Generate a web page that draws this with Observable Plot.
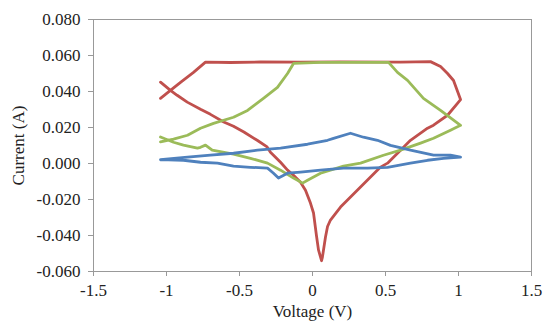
<!DOCTYPE html>
<html>
<head>
<meta charset="utf-8">
<script src="https://cdn.jsdelivr.net/npm/d3@7"></script>
<script src="https://cdn.jsdelivr.net/npm/@observablehq/plot@0.6"></script>
<style>
  html, body { margin: 0; padding: 0; background: #fff; }
  #chart svg g[aria-label$="-axis tick"] { color: #999; }
</style>
</head>
<body>
<div id="chart"></div>
<script>
// Tick labels
const xTicks = [-1.5, -1, -0.5, 0, 0.5, 1, 1.5];
const yTicks = [-0.06, -0.04, -0.02, 0, 0.02, 0.04, 0.06, 0.08];
const seriesNames = ["Series 1", "Series 2", "Series 3"];
const seriesColors = ["#C0504D", "#9BBB59", "#4F81BD"];

// Series 1 (red loop): voltage V, current A
const redV = [-1.041, -0.973, -0.904, -0.815, -0.733, -0.562, -0.356, -0.082, 0.192, 0.603, 0.808,
  0.877, 0.925, 0.966, 1.014, 0.993, 0.925, 0.829, 0.788, 0.671, 0.603, 0.514, 0.466, 0.329, 0.192,
  0.123, 0.103, 0.089, 0.068, 0.062, 0.041, 0.027, 0.007, -0.014, -0.048, -0.082, -0.130, -0.171,
  -0.219, -0.288, -0.311, -0.379, -0.470, -0.541, -0.608, -0.699, -0.767, -0.858, -0.927, -0.973, -1.041];
const redI = [0.0362, 0.0406, 0.0451, 0.0506, 0.0563, 0.0561, 0.0564, 0.0563, 0.0565, 0.0563, 0.0566,
  0.0539, 0.0500, 0.0461, 0.0355, 0.0334, 0.0268, 0.0213, 0.0196, 0.0129, 0.0074, 0.0002, -0.0020, -0.0131, -0.0242,
  -0.0314, -0.0350, -0.0408, -0.0520, -0.0540, -0.0480, -0.0400, -0.0275, -0.0220, -0.0148, -0.0104, -0.0065, -0.0037,
  0.0007, 0.0063, 0.0092, 0.0129, 0.0175, 0.0207, 0.0231, 0.0273, 0.0301, 0.0341, 0.0379, 0.0406, 0.0452];

// Series 2 (green loop)
const greenV = [-1.041, -0.952, -0.856, -0.767, -0.678, -0.541, -0.445, -0.336, -0.240, -0.171, -0.130,
  0.055, 0.260, 0.521, 0.582, 0.651, 0.760, 0.877, 1.014, 0.945, 0.829, 0.740, 0.603, 0.486, 0.329,
  0.212, 0.055, -0.034, -0.068, -0.130, -0.219, -0.308, -0.425, -0.541, -0.687, -0.733, -0.767, -0.788,
  -0.884, -0.952, -1.041];
const greenI = [0.0120, 0.0135, 0.0157, 0.0196, 0.0223, 0.0257, 0.0295, 0.0362, 0.0423, 0.0500, 0.0556,
  0.0562, 0.0562, 0.0562, 0.0506, 0.0462, 0.0362, 0.0295, 0.0212, 0.0185, 0.0140, 0.0113, 0.0074, 0.0046, 0.0002,
  -0.0015, -0.0054, -0.0093, -0.0109, -0.0081, -0.0037, 0.0002, 0.0029, 0.0052, 0.0074, 0.0102, 0.0090, 0.0085,
  0.0102, 0.0118, 0.0147];

// Series 3 (blue loop)
const blueV = [-1.041, -0.856, -0.699, -0.541, -0.377, -0.219, -0.034, 0.103, 0.144, 0.260, 0.349, 0.445,
  0.534, 0.671, 0.829, 0.945, 1.014, 0.897, 0.788, 0.671, 0.514, 0.377, 0.212, 0.055, -0.082, -0.171,
  -0.233, -0.267, -0.308, -0.425, -0.541, -0.651, -0.767, -0.884, -1.041];
const blueI = [0.0021, 0.0035, 0.0046, 0.0057, 0.0074, 0.0085, 0.0107, 0.0129, 0.0140, 0.0168, 0.0146, 0.0129,
  0.0101, 0.0074, 0.0046, 0.0046, 0.0035, 0.0029, 0.0018, 0.0002, -0.0021, -0.0026, -0.0026, -0.0037, -0.0048, -0.0054,
  -0.0081, -0.0054, -0.0026, -0.0021, -0.0015, 0.0002, 0.0007, 0.0018, 0.0021];

const table = [];
[[redV, redI], [greenV, greenI], [blueV, blueI]].forEach(([vs, is], k) => {
  vs.forEach((v, i) => table.push({series: seriesNames[k], v, i: is[i]}));
});

const chart = Plot.plot({
  width: 543,
  height: 322,
  marginLeft: 93,
  marginRight: 12,
  marginTop: 19,
  marginBottom: 51,
  style: {fontFamily: "'Liberation Serif', 'Times New Roman', serif", fontSize: "17px", color: "#222", background: "#fff"},
  x: {domain: [-1.5, 1.5], ticks: xTicks, tickFormat: d => String(d), tickSize: 5, tickPadding: 7,
      label: "Voltage (V)", labelArrow: false, labelAnchor: "center", labelOffset: 45},
  y: {domain: [-0.06, 0.08], ticks: yTicks, tickFormat: d => d.toFixed(3), tickSize: 5, tickPadding: 8,
      label: "Current (A)", labelArrow: false, labelAnchor: "center", labelOffset: 82},
  color: {domain: seriesNames, range: seriesColors},
  marks: [
    Plot.frame({stroke: "#999"}),
    Plot.line(table, {x: "v", y: "i", z: "series", stroke: "series", strokeWidth: 2.8,
      curve: "linear", strokeLinejoin: "round", strokeLinecap: "round"})
  ]
});
document.getElementById("chart").appendChild(chart);
</script>
</body>
</html>
